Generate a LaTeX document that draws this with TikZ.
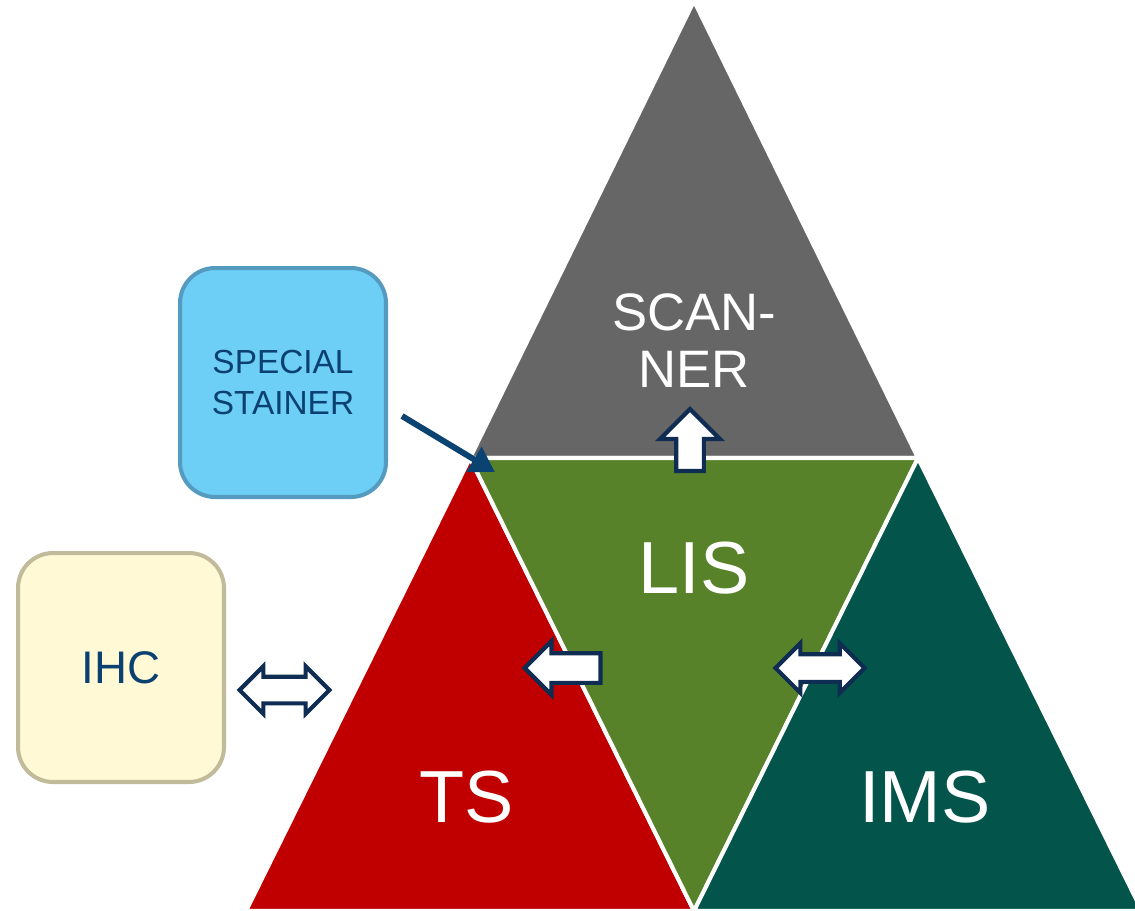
\documentclass[tikz,border=0pt]{standalone}
\usepackage{fontspec}
\setmainfont{Liberation Sans}
\usetikzlibrary{shapes.arrows, arrows.meta}
\definecolor{scanGray}{HTML}{666666}
\definecolor{lisGreen}{HTML}{58822A}
\definecolor{tsRed}{HTML}{C00000}
\definecolor{imsTeal}{HTML}{03544A}
\definecolor{stainBlue}{HTML}{6DCFF6}
\definecolor{stainEdge}{HTML}{559BBF}
\definecolor{ihcCream}{HTML}{FFFAD5}
\definecolor{ihcEdge}{HTML}{C1BB9B}
\definecolor{boxText}{HTML}{0B4170}
\definecolor{arrNavy}{HTML}{0F2C52}
\definecolor{stainArrow}{HTML}{0A4271}

\begin{document}
\begin{tikzpicture}[x=0.02cm, y=-0.02cm,
  tri/.style={draw=white, line width=2.3pt, line join=miter},
  bigtext/.style={text=white, font=\fontsize{42}{44}\selectfont},
  sidebox/.style={rounded corners=0.7cm, line width=2.3pt, minimum width=4.12cm, minimum height=4.58cm, align=center, text=boxText},
  blockarrow/.style={draw=arrNavy, fill=white, line width=2.4pt, inner xsep=0pt}]
\useasboundingbox (0,0) rectangle (1135,910);
\clip (0,0) rectangle (1135,910);
% corners of the four triangles
\coordinate (top) at (694,1);
\coordinate (midL) at (470,458);
\coordinate (midR) at (918,458);
\coordinate (botL) at (246,911);
\coordinate (botM) at (694,911);
\coordinate (botR) at (1142,911);
\path[tri, fill=scanGray] (top) -- (midL) -- (midR) -- cycle;
\path[tri, fill=tsRed] (midL) -- (botL) -- (botM) -- cycle;
\path[tri, fill=lisGreen] (midL) -- (midR) -- (botM) -- cycle;
\path[tri, fill=imsTeal] (midR) -- (botM) -- (botR) -- cycle;
% labels
\node[text=white, align=center, font=\fontsize{30}{32.5}\selectfont] (scanner) at (694,341) {SCAN-\\NER};
\node[bigtext] (lis) at (694,568) {LIS};
\node[bigtext] (ts) at (467,797) {TS};
\node[bigtext] (ims) at (925,797) {IMS};
% side boxes
\node[sidebox, draw=stainEdge, fill=stainBlue, font=\fontsize{19}{23.3}\selectfont] (stainer) at (283,382.5) {SPECIAL\\STAINER};
\node[sidebox, draw=ihcEdge, fill=ihcCream, font=\fontsize{26}{28}\selectfont] (ihc) at (121,667.5) {IHC};
% block arrows
\node[blockarrow, single arrow, rotate=90, minimum height=1.24cm, inner ysep=0.235cm, single arrow head extend=0.32cm] (uparr) at (690,447) {};
\node[blockarrow, single arrow, rotate=180, minimum height=1.52cm, inner ysep=0.255cm, single arrow head extend=0.24cm] (leftarr) at (570,668) {};
\node[blockarrow, double arrow, minimum height=1.78cm, inner ysep=0.235cm, double arrow head extend=0.22cm] (imsarr) at (820,668) {};
\node[blockarrow, double arrow, minimum height=1.8cm, inner ysep=0.225cm, double arrow head extend=0.21cm] (ihcarr) at (284.5,690) {};
% stainer feeds the LIS
\coordinate (stainfrom) at (402,416);
\coordinate (stainto) at (495,472);
\draw[-{Triangle[length=14pt,width=16pt]}, line width=3.4pt, stainArrow] (stainfrom) -- (stainto);
\end{tikzpicture}
\end{document}
